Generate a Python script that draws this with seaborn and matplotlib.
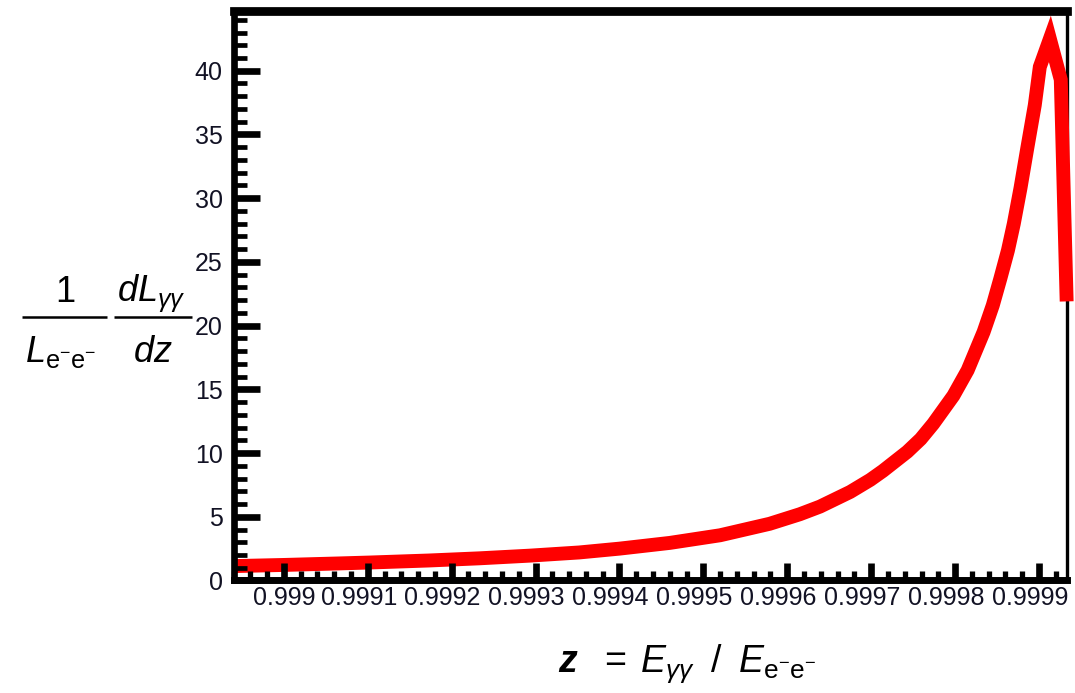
import matplotlib
matplotlib.use("Agg")
import matplotlib.pyplot as plt
import matplotlib.ticker as mticker
import matplotlib.transforms as mtransforms
from matplotlib.lines import Line2D
import pandas as pd
import seaborn as sns

# Normalised photon-photon luminosity spectrum near the kinematic endpoint
z_values = [0.99894, 0.999000, 0.999066, 0.999102, 0.999173, 0.999233,
            0.999293, 0.999352, 0.999400, 0.999460, 0.999520, 0.999579,
            0.999615, 0.999639, 0.999675, 0.999699, 0.999714, 0.999743,
            0.999759, 0.999774, 0.999798, 0.999815, 0.999834, 0.999845,
            0.999854, 0.999863, 0.999870, 0.999878, 0.999886, 0.999895,
            0.999901, 0.999913, 0.999926, 0.999933]
lumi_values = [1.13, 1.22, 1.34, 1.41, 1.57, 1.74,
               1.95, 2.2, 2.5, 2.95, 3.55, 4.45,
               5.2, 5.8, 6.95, 7.9, 8.6, 10.1,
               11.1, 12.3, 14.5, 16.5, 19.5, 21.6,
               23.7, 25.9, 28.0, 30.8, 33.9, 37.3,
               40.3, 42.5, 39.3, 21.9]

x_tick_values = [0.9990, 0.9991, 0.9992, 0.9993, 0.9994,
                 0.9995, 0.9996, 0.9997, 0.9998, 0.9999]
x_tick_labels = ["0.999", "0.9991", "0.9992", "0.9993", "0.9994",
                 "0.9995", "0.9996", "0.9997", "0.9998", "0.9999"]
y_tick_values = [0, 5, 10, 15, 20, 25, 30, 35, 40]

sns.set_theme(style="white")
plt.rcParams["font.family"] = ["Liberation Sans", "DejaVu Sans"]
plt.rcParams.update({
    "mathtext.fontset": "custom",
    "mathtext.rm": "Liberation Sans",
    "mathtext.it": "Liberation Sans:italic",
    "mathtext.bf": "Liberation Sans:bold",
    "mathtext.bfit": "Liberation Sans:italic:bold",
    "mathtext.sf": "Liberation Sans",
})

W, H = 1075, 693
df = pd.DataFrame({"z": z_values, "dLdz": lumi_values})

fig = plt.figure(figsize=(W / 100, H / 100), dpi=100)
fig.patch.set_facecolor("white")
ax = fig.add_axes([0.21721, 0.16234, 0.77581, 0.82107])
ax.set_facecolor("white")

sns.lineplot(data=df, x="z", y="dLdz", ax=ax, color="#ff0000",
             linewidth=10, estimator=None, sort=False)
curve = ax.lines[0]
curve.set_solid_joinstyle("miter")
curve.set_solid_capstyle("butt")
curve.set_clip_on(False)
curve.set_zorder(3)

ax.set_xlim(0.99894, 0.999934)
ax.set_ylim(0, 44.65)

# frame
spine_widths = {"left": 4.8, "bottom": 5.0, "top": 6.3, "right": 2.4}
for side, w in spine_widths.items():
    sp = ax.spines[side]
    sp.set_visible(True)
    sp.set_color("black")
    sp.set_linewidth(w)
    sp.set_zorder(4 if side in ("left", "bottom", "top") else 2)

ax.xaxis.set_major_locator(mticker.FixedLocator(x_tick_values))
ax.xaxis.set_major_formatter(mticker.FixedFormatter(x_tick_labels))
ax.xaxis.set_minor_locator(mticker.MultipleLocator(0.00002))
ax.yaxis.set_major_locator(mticker.FixedLocator(y_tick_values))
ax.yaxis.set_minor_locator(mticker.MultipleLocator(1))

label_color = "#121224"
ax.tick_params(axis="y", which="major", direction="in", length=18.4, width=4.8,
               pad=7.8, labelsize=18, labelcolor=label_color, color="black",
               left=True, right=False)
ax.tick_params(axis="y", which="minor", direction="in", length=9.7, width=3.4,
               color="black", left=True, right=False)
ax.tick_params(axis="x", which="major", direction="in", length=11.9, width=4.8,
               pad=4.3, labelsize=18, labelcolor=label_color, color="black",
               bottom=True, top=False)
ax.tick_params(axis="x", which="minor", direction="in", length=6.5, width=3.8,
               color="black", bottom=True, top=False)
ax.xaxis.set_zorder(4)
ax.yaxis.set_zorder(4)
ax.grid(False)

# x axis title
ax.set_xlabel(r"$\mathbfit{z}\ \ =\;E_{\gamma\gamma}\;\;/\;\;E_{\mathrm{e^{-}e^{-}}}$",
              fontsize=27, ha="center", va="baseline", color="black")
ax.xaxis.set_label_coords(0.5438, -0.1608)
ax.set_ylabel("")


# y axis title: (1 / L_ee) (dL_gg / dz), set as two stacked fractions
def fx(px):
    return px / W


def fy(py):
    return 1 - py / H


title_size = 26
fig.text(fx(65), fy(302), "1", fontsize=title_size, ha="center",
         va="baseline", color="black")
fig.text(fx(61), fy(362), r"$L_{\mathrm{e^{-}e^{-}}}$", fontsize=title_size,
         ha="center", va="baseline", color="black")
fig.text(fx(151), fy(302), r"$dL_{\gamma\gamma}$", fontsize=title_size,
         ha="center", va="baseline", color="black")
fig.text(fx(153), fy(362), r"$dz$", fontsize=title_size, ha="center",
         va="baseline", color="black")
for x0, x1 in ((22, 107), (114, 192)):
    fig.add_artist(Line2D([fx(x0), fx(x1)], [fy(317), fy(317)],
                          transform=fig.transFigure, color="black",
                          linewidth=1.8, solid_capstyle="butt"))

# the longer labels sit slightly left of their ticks
shift = mtransforms.ScaledTranslation(-0.09, 0, fig.dpi_scale_trans)
for lbl in ax.get_xticklabels()[1:]:
    lbl.set_transform(lbl.get_transform() + shift)

fig.savefig("out.png", dpi=100)
